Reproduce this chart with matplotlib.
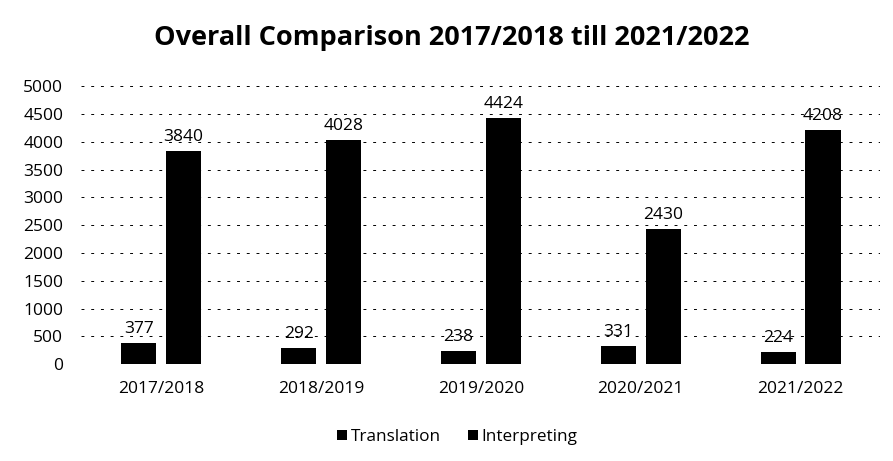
import numpy as np
import matplotlib
matplotlib.use("Agg")
import matplotlib.pyplot as plt

plt.rcParams['font.family'] = ['Open Sans', 'DejaVu Sans']

years = ['2017/2018', '2018/2019', '2019/2020', '2020/2021', '2021/2022']
translation = [377, 292, 238, 331, 224]
interpreting = [3840, 4028, 4424, 2430, 4208]

fig = plt.figure(figsize=(8.93, 4.61), dpi=100)
ax = fig.add_axes([0.091, 0.210, 0.895, 0.603])

x = np.arange(len(years))
w = 0.22
off = 0.14
b1 = ax.bar(x - off, translation, w, color='black', label='Translation')
b2 = ax.bar(x + off, interpreting, w, color='black', label='Interpreting')

for bars in (b1, b2):
    for r in bars:
        ax.text(r.get_x() + r.get_width() / 2, r.get_height() + 110,
                str(int(r.get_height())), ha='center', va='bottom', fontsize=12.5)

ax.set_xlim(-0.5, len(years) - 0.5)
ax.set_ylim(0, 5000)
ax.set_yticks(np.arange(0, 5001, 500))
ax.set_xticks(x)
ax.set_xticklabels(years)
ax.tick_params(axis='both', length=0, labelsize=12.5, pad=12)
ax.tick_params(axis='y', pad=13)
ax.grid(axis='y', color='black', linewidth=0.7, linestyle=(0, (3, 7)))
ax.set_axisbelow(True)
for s in ax.spines.values():
    s.set_visible(False)

fig.suptitle('Overall Comparison 2017/2018 till 2021/2022', fontsize=19.5,
             fontweight='bold', x=0.506, y=0.945)
fig.legend(loc='center', bbox_to_anchor=(0.512, 0.052), ncol=2, frameon=False,
           fontsize=12.3, handlelength=0.6, handleheight=0.6, handletextpad=0.2,
           columnspacing=1.6)

fig.savefig('out.png', dpi=100)
